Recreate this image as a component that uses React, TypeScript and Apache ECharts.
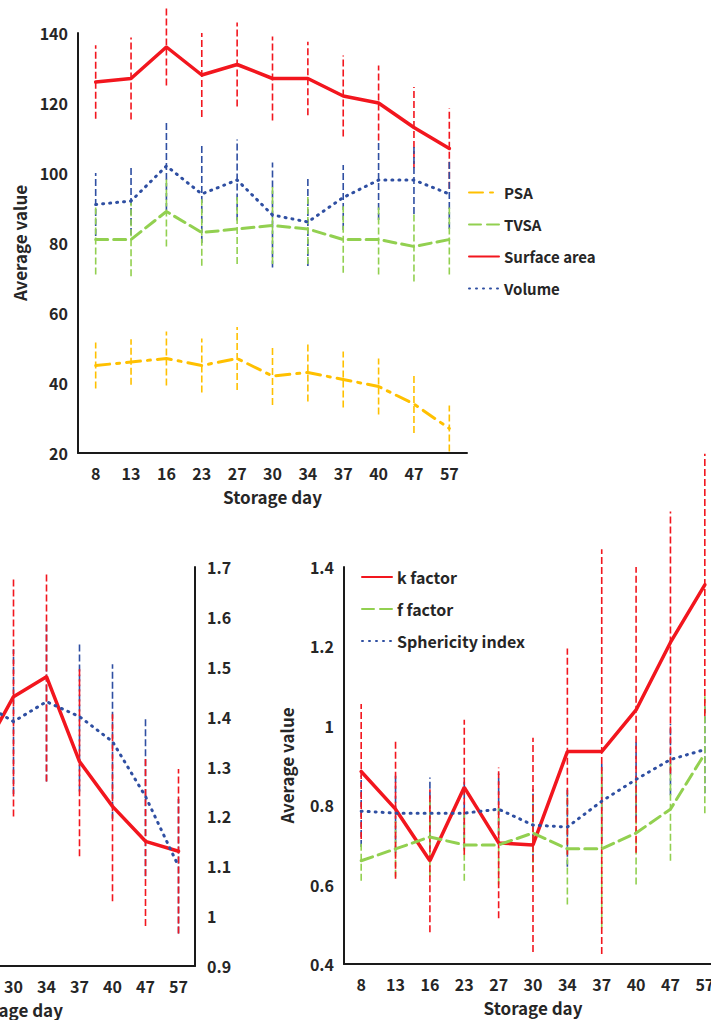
import React, { useEffect, useRef } from "react";
import * as echarts from "echarts";

const days = ["8", "13", "16", "23", "27", "30", "34", "37", "40", "47", "57"];

// Top panel
const psa = [45, 46, 47, 45, 47, 42, 43, 41, 39, 34, 27];
const psaErr = [6.6, 6.5, 7.7, 7.7, 9, 8.3, 8.3, 8, 8, 8.3, 6.6];
const tvsa = [81, 81, 89, 83, 84, 85, 84, 81, 81, 79, 81];
const tvsaErr = [10, 10.5, 10, 9.5, 10, 11, 10, 9.5, 10, 10, 10];
const surfaceArea = [126, 127, 136, 128, 131, 127, 127, 122, 120, 113, 107];
const surfaceErr = [10.5, 11.7, 11, 12, 12, 12, 10.5, 11.6, 10.7, 11.6, 11.5];
const volume = [91, 92, 102, 94, 98, 88, 86, 93, 98, 98, 94];
const volumeErr = [9, 9.7, 12.6, 14, 11.6, 15, 12.6, 9.3, 11.4, 9.7, 10];

// Bottom-left panel (partly outside the picture)
const leftRed = [1.35, 1.3, 1.38, 1.36, 1.32, 1.44, 1.48, 1.31, 1.22, 1.15, 1.13];
const leftRedErr = [0.2, 0.2, 0.2, 0.2, 0.22, 0.24, 0.21, 0.19, 0.19, 0.17, 0.165];
const leftBlue = [1.38, 1.4, 1.41, 1.4, 1.43, 1.39, 1.43, 1.4, 1.35, 1.24, 1.1];
const leftBlueErr = [0.15, 0.15, 0.15, 0.15, 0.15, 0.145, 0.16, 0.15, 0.155, 0.16, 0.135];

// Bottom-right panel
const kFactor = [0.885, 0.79, 0.66, 0.845, 0.705, 0.7, 0.935, 0.935, 1.04, 1.21, 1.355];
const kErr = [0.17, 0.175, 0.18, 0.17, 0.19, 0.27, 0.26, 0.51, 0.36, 0.33, 0.33];
const fFactor = [0.66, 0.69, 0.72, 0.7, 0.7, 0.73, 0.69, 0.69, 0.73, 0.79, 0.93];
const fErr = [0.05, 0.07, 0.1, 0.09, 0.1, 0.1, 0.14, 0.2, 0.13, 0.13, 0.15];
const sphericity = [0.785, 0.78, 0.78, 0.78, 0.79, 0.75, 0.745, 0.81, 0.865, 0.915, 0.94];
const sphErr = [0.09, 0.1, 0.09, 0.09, 0.09, 0.09, 0.1, 0.1, 0.1, 0.09, 0.11];

const RED = "#F2161E";
const GREEN = "#92D050";
const BLUE = "#2F4FA2";
const YELLOW = "#FFC000";
const TEXT = "#262626";
const FONT = "'Noto Sans CJK KR', 'Noto Sans', sans-serif";

// the chart canvas starts SHIFT px left of the page so the left panel can run off it
const SHIFT = 200;

const errData = (vals: number[], errs: number[]) =>
  vals.map((v, i) => [i, v - errs[i], v + errs[i]]);

const errSeries = (vals: number[], errs: number[], color: string, axis: number) => ({
  type: "custom",
  xAxisIndex: axis,
  yAxisIndex: axis,
  clip: false,
  z: 1,
  silent: true,
  encode: { x: 0, y: [1, 2] },
  data: errData(vals, errs),
  renderItem: (_p: any, api: any) => {
    const x = api.value(0);
    const a = api.coord([x, api.value(1)]);
    const b = api.coord([x, api.value(2)]);
    return {
      type: "line",
      shape: { x1: a[0], y1: a[1], x2: b[0], y2: b[1] },
      style: { stroke: color, lineWidth: 1.6, lineDash: [7, 3] },
    };
  },
});

const lineSeries = (name: string, data: number[], color: string, type: any, axis: number, width = 3) => ({
  type: "line",
  name,
  data,
  xAxisIndex: axis,
  yAxisIndex: axis,
  symbol: "none",
  z: 3,
  lineStyle: { color, width, type, cap: "round" },
  itemStyle: { color },
});

const axisLabel = { color: TEXT, fontSize: 16, fontWeight: "bold", fontFamily: FONT };
const nameStyle = { color: TEXT, fontSize: 17, fontWeight: "bold", fontFamily: FONT };
const axisLine = { show: true, lineStyle: { color: "#1a1a1a", width: 2 } };

const xAxisFor = (grid: number) => ({
  type: "category",
  gridIndex: grid,
  data: days,
  boundaryGap: true,
  axisLine,
  axisTick: { show: false },
  axisLabel: { ...axisLabel, interval: 0, margin: 12 },
  name: "Storage day",
  nameLocation: "middle",
  nameGap: 35,
  nameTextStyle: nameStyle,
  splitLine: { show: false },
});

const legendText = { color: TEXT, fontSize: 15, fontWeight: "bold", fontFamily: FONT };

export default function App() {
  const ref = useRef<HTMLDivElement>(null);
  useEffect(() => {
    if (!ref.current) return;
    const chart = echarts.init(ref.current, undefined, { renderer: "svg" });
    chart.setOption({
      animation: false,
      grid: [
        { left: 78 + SHIFT, top: 33, width: 389, height: 420 },
        { left: -168 + SHIFT, top: 567, width: 363, height: 399 },
        { left: 344 + SHIFT, top: 567, width: 378, height: 397 },
      ],
      xAxis: [xAxisFor(0), xAxisFor(1), xAxisFor(2)],
      yAxis: [
        {
          type: "value",
          gridIndex: 0,
          min: 20,
          max: 140,
          interval: 20,
          axisLine,
          axisTick: { show: false },
          splitLine: { show: false },
          axisLabel: { ...axisLabel, margin: 10 },
          name: "Average value",
          nameLocation: "middle",
          nameGap: 50,
          nameTextStyle: nameStyle,
        },
        {
          type: "value",
          gridIndex: 1,
          position: "right",
          min: 0.9,
          max: 1.7,
          interval: 0.1,
          axisLine,
          axisTick: { show: false },
          splitLine: { show: false },
          axisLabel: { ...axisLabel, margin: 12 },
        },
        {
          type: "value",
          gridIndex: 2,
          min: 0.4,
          max: 1.4,
          interval: 0.2,
          axisLine,
          axisTick: { show: false },
          splitLine: { show: false },
          axisLabel: { ...axisLabel, margin: 10 },
          name: "Average value",
          nameLocation: "middle",
          nameGap: 49,
          nameTextStyle: nameStyle,
        },
      ],
      legend: [
        {
          orient: "vertical",
          left: 463 + SHIFT,
          top: 180,
          itemWidth: 30,
          itemHeight: 14,
          itemGap: 17,
          itemStyle: { opacity: 0 },
          data: ["PSA", "TVSA", "Surface area", "Volume"],
          textStyle: legendText,
        },
        {
          orient: "vertical",
          left: 356 + SHIFT,
          top: 564,
          itemWidth: 30,
          itemHeight: 14,
          itemGap: 16,
          itemStyle: { opacity: 0 },
          data: ["k factor", "f factor", "Sphericity index"],
          textStyle: { ...legendText, fontSize: 16 },
        },
      ],
      series: [
        errSeries(surfaceArea, surfaceErr, RED, 0),
        errSeries(volume, volumeErr, BLUE, 0),
        errSeries(tvsa, tvsaErr, GREEN, 0),
        errSeries(psa, psaErr, YELLOW, 0),
        lineSeries("PSA", psa, YELLOW, [14, 7, 3, 7], 0),
        lineSeries("TVSA", tvsa, GREEN, [12, 6], 0),
        lineSeries("Surface area", surfaceArea, RED, "solid", 0, 3.5),
        lineSeries("Volume", volume, BLUE, [1, 6], 0, 3),

        errSeries(leftBlue, leftBlueErr, BLUE, 1),
        errSeries(leftRed, leftRedErr, RED, 1),
        lineSeries("Left index A", leftRed, RED, "solid", 1, 3.5),
        lineSeries("Left index B", leftBlue, BLUE, [1, 6], 1, 3),

        errSeries(sphericity, sphErr, BLUE, 2),
        errSeries(fFactor, fErr, GREEN, 2),
        errSeries(kFactor, kErr, RED, 2),
        lineSeries("k factor", kFactor, RED, "solid", 2, 3.5),
        lineSeries("f factor", fFactor, GREEN, [12, 6], 2),
        lineSeries("Sphericity index", sphericity, BLUE, [1, 6], 2, 3),
      ],
    });
    return () => chart.dispose();
  }, []);
  return (
    <div
      style={{ position: "fixed", left: 0, top: 0, width: 711, height: 1020, overflow: "hidden", background: "#fff" }}
    >
      <div
        ref={ref}
        style={{ position: "absolute", left: -SHIFT, top: 0, width: 711 + SHIFT + 30, height: 1020 }}
      />
    </div>
  );
}
